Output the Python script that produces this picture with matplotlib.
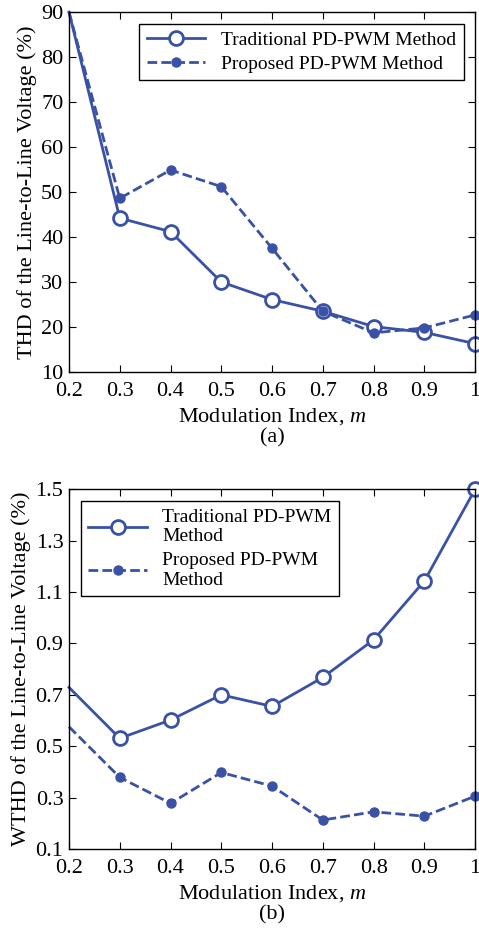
import matplotlib
matplotlib.use("Agg")
import matplotlib.pyplot as plt

# data
m = [0.2, 0.3, 0.4, 0.5, 0.6, 0.7, 0.8, 0.9, 1.0]

thd_trad = [90, 44.2, 41.2, 30.0, 26.1, 23.5, 20.1, 18.8, 16.3]
thd_prop = [90, 48.6, 54.9, 51.2, 37.5, 23.5, 18.7, 19.8, 22.7]

wthd_trad = [0.729, 0.531, 0.602, 0.700, 0.655, 0.768, 0.914, 1.143, 1.500]
wthd_prop = [0.576, 0.379, 0.278, 0.398, 0.345, 0.213, 0.245, 0.228, 0.306]

xticks = [0.2, 0.3, 0.4, 0.5, 0.6, 0.7, 0.8, 0.9, 1.0]
xticklabels = ["0.2", "0.3", "0.4", "0.5", "0.6", "0.7", "0.8", "0.9", "1"]
thd_ticks = [10, 20, 30, 40, 50, 60, 70, 80, 90]
wthd_ticks = [0.1, 0.3, 0.5, 0.7, 0.9, 1.1, 1.3, 1.5]

blue = "#3a52a6"
plt.rcParams["font.family"] = ["Liberation Serif", "DejaVu Serif"]
plt.rcParams["mathtext.fontset"] = "custom"
plt.rcParams["mathtext.it"] = "Liberation Serif:italic"

fig = plt.figure(figsize=(4.79, 9.30), dpi=100)
ax1 = fig.add_axes([0.144, 0.600, 0.848, 0.387])
ax2 = fig.add_axes([0.144, 0.087, 0.848, 0.387])

mk = slice(1, None)
dash = (3.5, 1.5)
ax1.plot(m, thd_trad, "-", color=blue, lw=2, marker="o", ms=10, mfc="white",
         mew=2, markevery=mk, label="Traditional PD-PWM Method", clip_on=False)
ax1.plot(m, thd_prop, "--", color=blue, lw=2, marker="o", ms=6.5, dashes=dash,
         markevery=mk, label="Proposed PD-PWM Method", clip_on=False)
ax1.set_ylim(10, 90)
ax1.set_yticks(thd_ticks)
ax1.set_ylabel("THD of the Line-to-Line Voltage (%)", fontsize=16, labelpad=3)
ax1.set_xlabel("Modulation Index, $m$\n(a)", fontsize=16, linespacing=1.05,
               labelpad=4)
ax1.legend(loc="upper right", fontsize=14, fancybox=False, edgecolor="black",
           framealpha=1, handlelength=3, borderaxespad=0.6, labelspacing=0.3)

ax2.plot(m, wthd_trad, "-", color=blue, lw=2, marker="o", ms=10, mfc="white",
         mew=2, markevery=mk, label="Traditional PD-PWM\nMethod", clip_on=False)
ax2.plot(m, wthd_prop, "--", color=blue, lw=2, marker="o", ms=6.5, dashes=dash,
         markevery=mk, label="Proposed PD-PWM\nMethod", clip_on=False)
ax2.set_ylim(0.1, 1.5)
ax2.set_yticks(wthd_ticks)
ax2.set_ylabel("WTHD of the Line-to-Line Voltage (%)", fontsize=16, labelpad=3)
ax2.set_xlabel("Modulation Index, $m$\n(b)", fontsize=16, linespacing=1.05,
               labelpad=4)
ax2.legend(loc="upper left", fontsize=14, fancybox=False, edgecolor="black",
           framealpha=1, handlelength=3, borderaxespad=0.6, labelspacing=0.35)

for ax in (ax1, ax2):
    ax.set_xlim(0.2, 1.0)
    ax.set_xticks(xticks)
    ax.set_xticklabels(xticklabels)
    ax.tick_params(direction="in", top=True, right=True, labelsize=16, length=5)
    ax.tick_params(axis="x", pad=7)
    ax.tick_params(axis="y", pad=4)
    for s in ax.spines.values():
        s.set_linewidth(1)

fig.savefig("out.png", dpi=100)
